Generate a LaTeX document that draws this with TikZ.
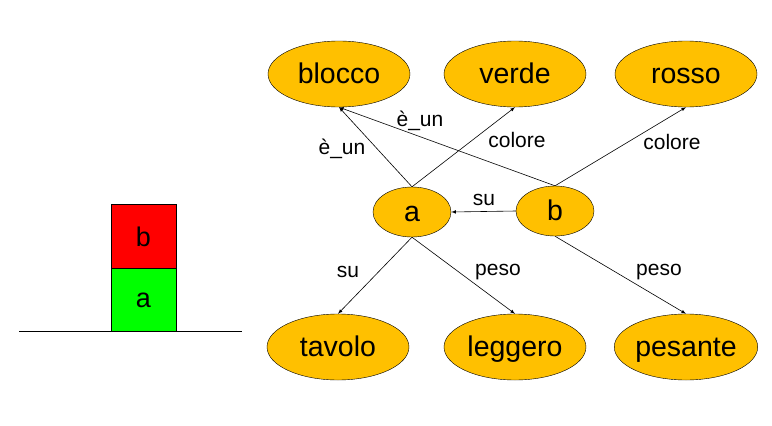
\documentclass[tikz,border=0pt]{standalone}
\usepackage{fontspec}
\setmainfont{Liberation Sans}
\usetikzlibrary{arrows,shapes.geometric,positioning}

\definecolor{nodeorange}{RGB}{255,192,0}
\tikzset{
  concetto/.style={ellipse,draw=black,fill=nodeorange,inner sep=0pt,minimum width=142pt,minimum height=66pt,text height=24pt,text depth=5pt,font=\fontsize{28.5}{32}\selectfont},
  piccolo/.style={concetto,minimum width=78pt,minimum height=50pt},
  rel/.style={-latex,line width=0.6pt},
  etich/.style={font=\fontsize{21}{25}\selectfont,inner sep=1pt},
  blocco/.style={draw=black,line width=0.8pt,minimum width=65pt,minimum height=63.5pt,inner sep=0pt,font=\fontsize{27}{31}\selectfont}
}

\begin{document}
\begin{tikzpicture}[x=1pt,y=-1pt]
\useasboundingbox (0,0) rectangle (772,426);

%blocchi
\node[blocco,fill=red] (bb) at (143.5,236.5) {b};
\node[blocco,fill=green] (ba) at (143.5,300) {a};
%tavolo
\coordinate (tsx) at (19,331.75);
\coordinate (tdx) at (242,331.75);
\draw[line width=0.8pt] (tsx) -- (tdx);

%concetti in alto
\node[concetto] (blocco) at (339,74) {blocco};
\node[concetto] (verde) at (515,74) {verde};
\node[concetto] (rosso) at (686,74) {rosso};
%a e b
\node[piccolo] (a) at (412,212) {a};
\node[piccolo] (b) at (555,211) {b};
%concetti in basso
\node[concetto] (tavolo) at (338,347) {tavolo};
\node[concetto] (leggero) at (515,347) {leggero};
\node[concetto] (pesante) at (686,347) {pesante};

%archi
\draw[rel] (a.north) -- (blocco.south);
\draw[rel] (a.north) -- (verde.south);
\draw[rel] (b.north) -- (blocco.south);
\draw[rel] (b.north) -- (rosso.south);
\draw[rel] (b.west) -- (a.east);
\draw[rel] (a.south) -- (tavolo.north);
\draw[rel] (a.south) -- (leggero.north);
\draw[rel] (b.south) -- (pesante.north);

%etichette
\node[etich] (lun1) at (342,149) {è\_un};
\node[etich] (lun2) at (420,121) {è\_un};
\node[etich] (lcol1) at (517,140) {colore};
\node[etich] (lcol2) at (672,142) {colore};
\node[etich] (lsu1) at (484,200) {su};
\node[etich] (lsu2) at (348,272) {su};
\node[etich] (lpeso1) at (498,272) {peso};
\node[etich] (lpeso2) at (659,272) {peso};

\end{tikzpicture}
\end{document}
